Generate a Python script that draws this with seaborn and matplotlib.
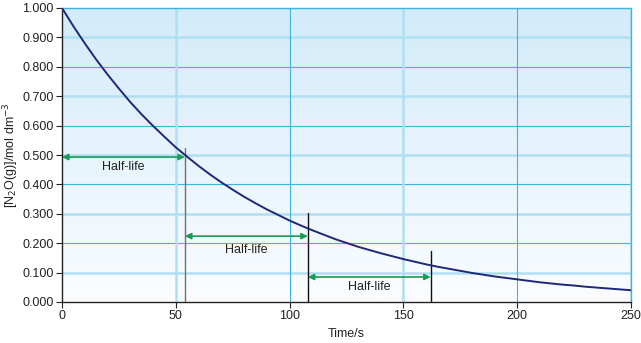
import numpy as np
import pandas as pd
import matplotlib
matplotlib.use("Agg")
import matplotlib.pyplot as plt
import seaborn as sns
from matplotlib.colors import LinearSegmentedColormap

# Data
time_s = [0, 5, 10, 15, 20, 25, 30, 35, 40, 45, 50, 55, 60, 65, 70, 75, 80, 85, 90, 95,
          100, 105, 110, 115, 120, 125, 130, 135, 140, 145, 150, 155, 160, 165, 170, 175,
          180, 185, 190, 195, 200, 205, 210, 215, 220, 225, 230, 235, 240, 245, 250]
conc = [1.000, 0.938, 0.880, 0.825, 0.774, 0.726, 0.680, 0.638, 0.599, 0.562, 0.526,
        0.494, 0.463, 0.434, 0.407, 0.382, 0.358, 0.336, 0.315, 0.296, 0.277, 0.260,
        0.244, 0.229, 0.214, 0.201, 0.188, 0.177, 0.166, 0.156, 0.146, 0.137, 0.128,
        0.120, 0.113, 0.106, 0.099, 0.093, 0.087, 0.082, 0.077, 0.072, 0.067, 0.063,
        0.059, 0.056, 0.052, 0.049, 0.046, 0.043, 0.040]

half_life_marks = [54, 108, 162]          # vertical marker positions (s)
mark_tops = [0.525, 0.303, 0.173]         # marker top values
arrow_starts = [0, 54, 108]
arrow_ends = [54, 108, 162]
arrow_levels = [0.493, 0.224, 0.085]
label_levels = [0.458, 0.177, 0.050]
x_ticks = [0, 50, 100, 150, 200, 250]
y_ticks = [0.0, 0.1, 0.2, 0.3, 0.4, 0.5, 0.6, 0.7, 0.8, 0.9, 1.0]

sns.set_style("white")
plt.rcParams['font.family'] = ['Liberation Sans', 'DejaVu Sans']

fig = plt.figure(figsize=(6.41, 3.43), dpi=100)
ax = fig.add_axes([62/641, 1-302/343, (631-62)/641, (302-8)/343])

# gradient background
grad = np.linspace(0, 1, 256).reshape(-1, 1)
cmap = LinearSegmentedColormap.from_list("bg", ["#fbfdff", "#d3ebfa"])
ax.imshow(grad, extent=[0, 250, 0, 1.0], origin="lower", aspect="auto", cmap=cmap, zorder=0)

# grid lines
light = "#b0dff2"
dark = "#3db5dc"
for i, y in enumerate(y_ticks[1:], start=1):
    if i % 2 == 1:
        ax.axhline(y, color=light, lw=1.8, zorder=1)
    else:
        ax.axhline(y, color=dark, lw=0.8, zorder=1)
for i, x in enumerate(x_ticks[1:], start=1):
    if i % 2 == 1:
        ax.axvline(x, color=light, lw=1.8, zorder=1)
    else:
        ax.axvline(x, color=dark, lw=0.8, zorder=1)

df = pd.DataFrame({"t": time_s, "c": conc})
sns.lineplot(data=df, x="t", y="c", ax=ax, color="#1e2878", lw=1.4, zorder=4)

# half-life markers
mark_colors = ["#707070", "#111111", "#111111"]
for x, top, col in zip(half_life_marks, mark_tops, mark_colors):
    ax.plot([x, x], [0, top], color=col, lw=1.0, zorder=3)

green = "#1a9a55"
for x0, x1, yl, ytext in zip(arrow_starts, arrow_ends, arrow_levels, label_levels):
    ax.annotate("", xy=(x0, yl), xytext=(x1, yl),
                arrowprops=dict(arrowstyle="<|-|>", color=green, lw=1.2,
                                mutation_scale=9, shrinkA=0, shrinkB=0), zorder=5)
    ax.text((x0 + x1) / 2, ytext, "Half-life", ha="center", va="center",
            fontsize=9, color="#222222", zorder=5)

ax.set_xlim(0, 250)
ax.set_ylim(0, 1.0)
ax.set_xticks(x_ticks)
ax.set_xticklabels([str(v) for v in x_ticks])
ax.set_yticks(y_ticks)
ax.set_yticklabels([f"{v:.3f}" for v in y_ticks])
ax.tick_params(axis="both", which="both", direction="out", length=4, width=0.8,
               color="#222222", labelsize=9, labelcolor="#222222", pad=2,
               left=True, bottom=True)
for s in ["left", "bottom"]:
    ax.spines[s].set_color("#222222")
    ax.spines[s].set_linewidth(1.0)
for s in ["top", "right"]:
    ax.spines[s].set_color(dark)
    ax.spines[s].set_linewidth(1.0)

ax.set_xlabel("Time/s", fontsize=9, color="#222222", labelpad=4)
ax.set_ylabel("[N$_2$O(g)]/mol dm$^{-3}$", fontsize=9, color="#222222")
ax.yaxis.set_label_coords(-0.072, 0.5)

fig.savefig("out.png", dpi=100)
